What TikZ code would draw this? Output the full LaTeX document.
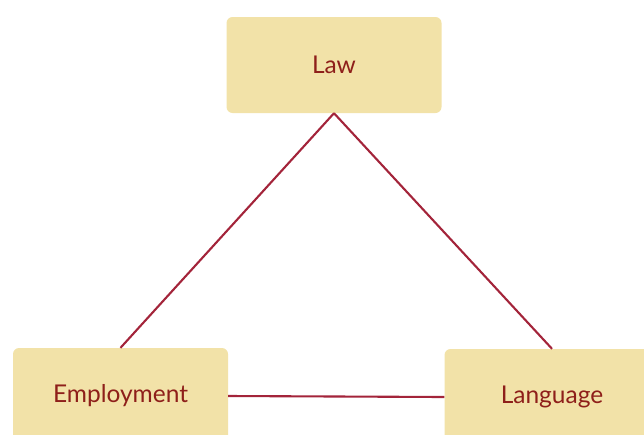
\documentclass[tikz,border=0pt]{standalone}
\usepackage{fontspec}
\setmainfont{Lato}
\definecolor{boxfill}{HTML}{F2E2A8}
\definecolor{txtred}{HTML}{8E1F1A}
\definecolor{linered}{HTML}{A3243A}
\begin{document}
\begin{tikzpicture}[x=1pt,y=-1pt,
  topicbox/.style={fill=boxfill,rounded corners=6pt,minimum width=215pt,minimum height=96pt,inner sep=0pt,text=txtred,font=\fontsize{24.5}{29}\selectfont},
  link/.style={draw=linered,line width=2.1pt}]
\useasboundingbox (0,0) rectangle (644,434);
\clip (0,0) rectangle (644,434);
\node[topicbox] (law) at (334,65) {Law};
\node[topicbox] (emp) at (120.5,396) {Employment};
\node[topicbox] (lang) at (552,397) {Language};
\draw[link] (law.south) -- (emp.north);
\draw[link] (law.south) -- (lang.north);
\draw[link] (emp.east) -- (lang.west);
\end{tikzpicture}
\end{document}
